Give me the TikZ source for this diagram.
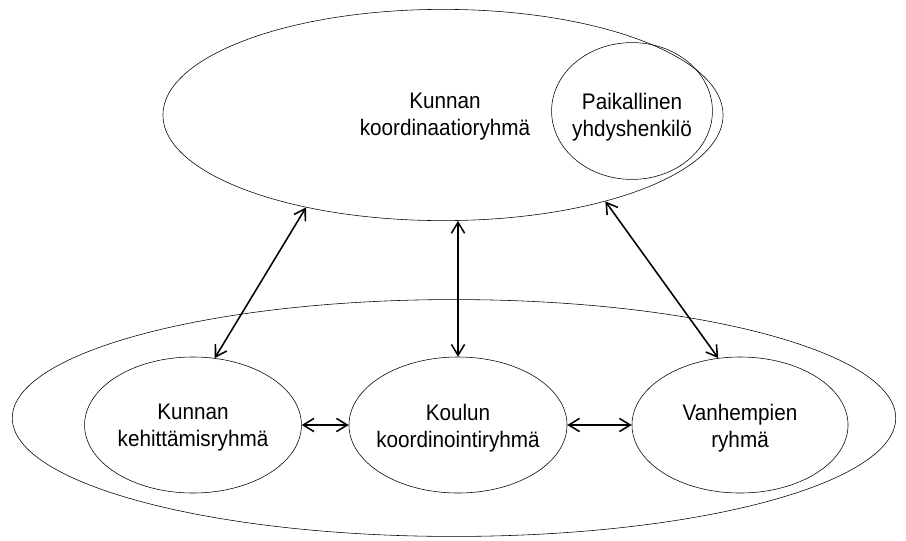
\documentclass[tikz,border=0pt]{standalone}
\usepackage{fontspec}
\setmainfont{Liberation Sans}[FakeStretch=0.92]
\usetikzlibrary{shapes.geometric,arrows.meta}
\begin{document}
\begin{tikzpicture}[x=0.025cm,y=-0.025cm,
        grp/.style={ellipse,draw,line width=0.4pt,inner sep=0pt},
        lbl/.style={align=center,font=\fontsize{16}{19.2}\selectfont},
        link/.style={{Straight Barb[length=2.7mm,width=3.3mm]}-{Straight Barb[length=2.7mm,width=3.3mm]},
            line width=1.1pt}]
\useasboundingbox (0,0) rectangle (906,540);

% ellipses
\node[grp,minimum width=22.08cm,minimum height=5.92cm] (koko) at (454,418) {};
\node[grp,minimum width=14cm,minimum height=5.28cm] (kk) at (443,115) {};
\node[grp,minimum width=4.02cm,minimum height=3.42cm] (yh) at (632,111) {};
\node[grp,minimum width=5.42cm,minimum height=3.4cm] (kr) at (193,425) {};
\node[grp,minimum width=5.45cm,minimum height=3.4cm] (ko) at (458,425) {};
\node[grp,minimum width=5.4cm,minimum height=3.4cm] (vr) at (740,425) {};

% texts
\node[lbl] (kkt) at (445,117) {Kunnan\\koordinaatioryhmä};
\node[lbl] (yht) at (632,117) {Paikallinen\\yhdyshenkilö};
\node[lbl] (krt) at (193,428) {Kunnan\\kehittämisryhmä};
\node[lbl] (kot) at (458,428) {Koulun\\koordinointiryhmä};
\node[lbl] (vrt) at (740,428) {Vanhempien\\ryhmä};

% links
\draw[link] (kk.214) -- (kr.72);
\draw[link] (kk.south -| ko.north) -- (ko.north);
\draw[link] (kk.332) -- (vr.108);
\draw[link] (kr.east) -- (ko.west);
\draw[link] (ko.east) -- (vr.west);

\end{tikzpicture}
\end{document}
